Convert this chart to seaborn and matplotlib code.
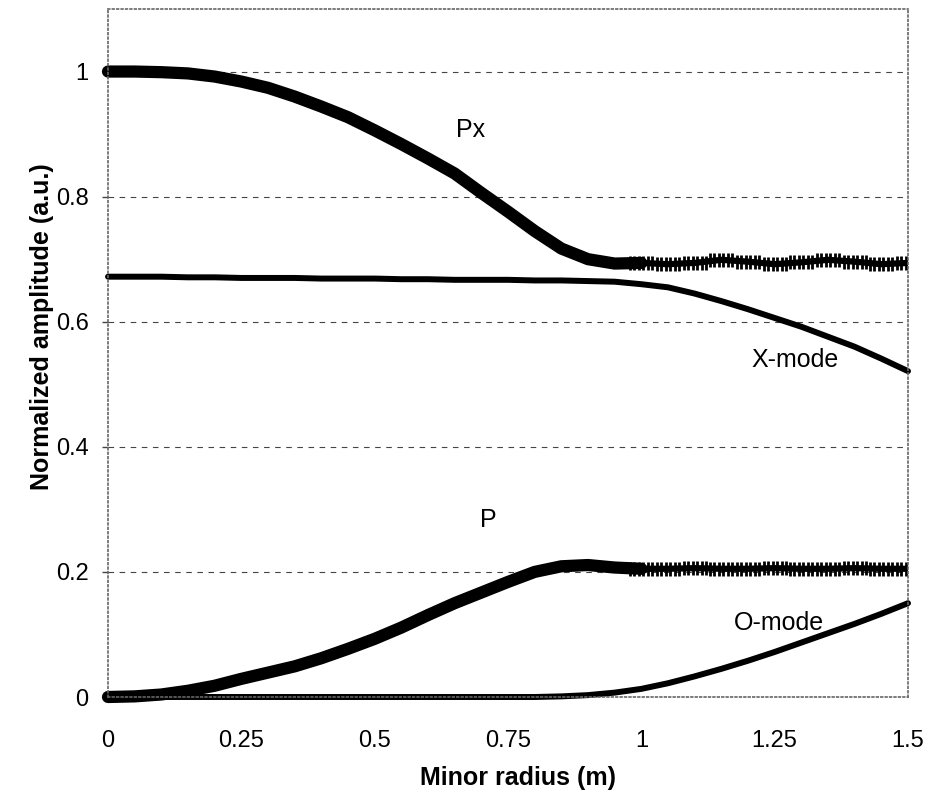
import numpy as np
import pandas as pd
import matplotlib
matplotlib.use("Agg")
import matplotlib.pyplot as plt
from matplotlib.path import Path
import seaborn as sns

# ---------------- data ----------------
radius = [0.00, 0.05, 0.10, 0.15, 0.20, 0.25, 0.30, 0.35, 0.40, 0.45,
          0.50, 0.55, 0.60, 0.65, 0.70, 0.75, 0.80, 0.85, 0.90, 0.95,
          1.00, 1.05, 1.10, 1.15, 1.20, 1.25, 1.30, 1.35, 1.40, 1.45, 1.50]

px_vals = [1.000, 1.000, 0.999, 0.997, 0.992, 0.984, 0.974, 0.960, 0.944, 0.927,
           0.906, 0.884, 0.861, 0.837, 0.806, 0.776, 0.745, 0.717, 0.700, 0.693,
           0.694, 0.692, 0.694, 0.699, 0.696, 0.692, 0.695, 0.699, 0.696, 0.692, 0.694]

p_vals = [0.000, 0.001, 0.004, 0.010, 0.018, 0.029, 0.039, 0.049, 0.062, 0.077,
          0.093, 0.111, 0.131, 0.150, 0.167, 0.184, 0.200, 0.209, 0.211, 0.207,
          0.205, 0.205, 0.206, 0.205, 0.205, 0.206, 0.205, 0.205, 0.206, 0.205, 0.205]

xmode_vals = [0.672, 0.672, 0.672, 0.671, 0.671, 0.670, 0.670, 0.670, 0.669, 0.669,
              0.669, 0.668, 0.668, 0.667, 0.667, 0.667, 0.666, 0.666, 0.665, 0.664,
              0.660, 0.655, 0.645, 0.633, 0.620, 0.606, 0.592, 0.576, 0.560, 0.541, 0.521]

omode_vals = [0.000, 0.000, 0.000, 0.000, 0.000, 0.000, 0.000, 0.000, 0.000, 0.000,
              0.000, 0.000, 0.000, 0.000, 0.000, 0.000, 0.000, 0.001, 0.003, 0.007,
              0.013, 0.022, 0.033, 0.045, 0.058, 0.072, 0.087, 0.102, 0.117, 0.133, 0.150]

x_ticks = [0, 0.25, 0.5, 0.75, 1.0, 1.25, 1.5]
x_tick_labels = ["0", "0.25", "0.5", "0.75", "1", "1.25", "1.5"]
y_ticks = [0, 0.2, 0.4, 0.6, 0.8, 1.0]
y_tick_labels = ["0", "0.2", "0.4", "0.6", "0.8", "1"]

curve_labels = ["Px", "X-mode", "P", "O-mode"]
label_pos = [(0.679, 0.907), (1.288, 0.539), (0.7125, 0.283), (1.258, 0.118)]

tail_start = 1.0

# ---------------- style ----------------
sns.set_style("white")
plt.rcParams["font.family"] = ["Liberation Sans", "DejaVu Sans"]
plt.rcParams["text.color"] = "black"
plt.rcParams["axes.labelcolor"] = "black"
plt.rcParams["xtick.color"] = "black"
plt.rcParams["ytick.color"] = "black"

df = pd.DataFrame({"r": radius, "Px": px_vals, "P": p_vals,
                   "X": xmode_vals, "O": omode_vals})
main = df[df["r"] <= tail_start]
tail = df[df["r"] >= tail_start]

fig = plt.figure(figsize=(9.35, 8.01), dpi=100)
ax = fig.add_axes([108 / 935, 104 / 801, 800 / 935, 688 / 801])

# ripple marker: a short comb of vertical ticks
n_teeth = 6
verts, codes = [], []
for k in range(n_teeth):
    xx = -2.5 + k
    verts += [(xx, -1.55), (xx, 1.55)]
    codes += [Path.MOVETO, Path.LINETO]
comb = Path(verts, codes)

# thin smooth modes
sns.lineplot(data=df, x="r", y="X", ax=ax, color="black", lw=4.3,
             estimator=None, clip_on=False, solid_capstyle="round")
sns.lineplot(data=df, x="r", y="O", ax=ax, color="black", lw=4.3,
             estimator=None, clip_on=False, solid_capstyle="round")

# thick curves up to r = 1, rippled tail beyond
for col in ["Px", "P"]:
    sns.lineplot(data=main, x="r", y=col, ax=ax, color="black", lw=8.8,
                 estimator=None, clip_on=False, solid_capstyle="round",
                 solid_joinstyle="round")
    sns.lineplot(data=tail, x="r", y=col, ax=ax, color="black", lw=4.5,
                 estimator=None, marker=comb, markersize=16,
                 markeredgewidth=2.0, markeredgecolor="black",
                 markerfacecolor="none")

ax.set_xlim(0, 1.5)
ax.set_ylim(0, 1.1)
ax.set_xticks(x_ticks)
ax.set_xticklabels(x_tick_labels)
ax.set_yticks(y_ticks)
ax.set_yticklabels(y_tick_labels)

ax.yaxis.grid(True, linestyle=(0, (5, 5)), color="#444444", lw=0.8)
ax.xaxis.grid(False)
ax.set_axisbelow(True)

for s in ax.spines.values():
    s.set_visible(True)
    s.set_linestyle(":")
    s.set_color("#666666")
    s.set_linewidth(1.2)

ax.tick_params(axis="y", length=4, width=1, color="#444444", pad=10,
               labelsize=17, left=True, labelcolor="black")
ax.tick_params(axis="x", length=0, pad=24, labelsize=17, labelcolor="black")

ax.set_xlabel("Minor radius (m)", fontsize=18, fontweight="bold", color="black")
ax.set_ylabel("Normalized amplitude (a.u.)", fontsize=18, fontweight="bold",
              color="black")
ax.xaxis.set_label_coords(0.5125, -0.100)
ax.yaxis.set_label_coords(-0.0675, 0.538)

for name, (lx, ly) in zip(curve_labels, label_pos):
    ax.text(lx, ly, name, fontsize=18, ha="center", va="center", color="black")

fig.savefig("out.png", dpi=100)
